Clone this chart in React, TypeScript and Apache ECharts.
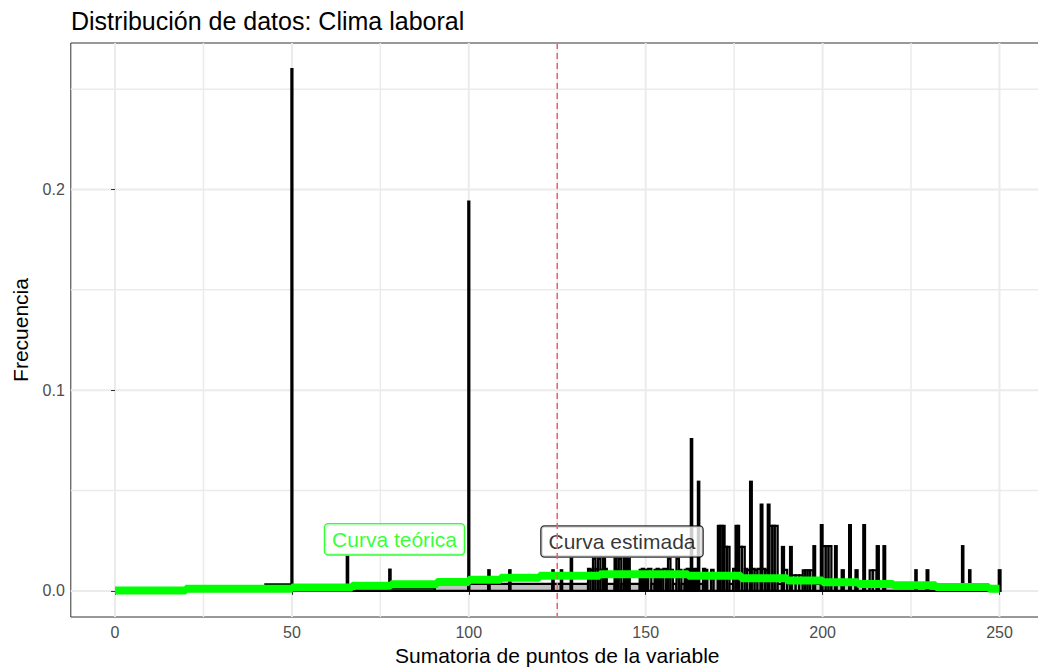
import React, { useEffect, useRef } from "react";
import * as echarts from "echarts";

// ---- Data ----
const xTicks = [0, 50, 100, 150, 200, 250];
const xMinor = [25, 75, 125, 175, 225];
const yTicks = [0, 0.1, 0.2];
const yMinor = [0.05, 0.15, 0.25];

// Estimated distribution (histogram bars): contiguous bin edges and heights
const binEdges = [42.5, 49.85, 50.15, 65.5, 65.9, 68.3, 77.5, 77.9, 90.4, 99.85, 100.15, 105.5, 105.9, 111.4, 111.8, 123.6, 124.0, 126.0, 126.4, 128.8, 129.2, 133.7, 134.4, 135.1, 135.8, 136.5, 137.2, 137.9, 138.5, 139.0, 141.2, 141.8, 142.4, 143.1, 143.8, 144.4, 145.0, 145.5, 148.3, 148.9, 149.5, 150.1, 150.7, 151.6, 152.5, 153.1, 153.7, 154.3, 155.0, 155.8, 156.3, 157.0, 157.7, 158.7, 159.4, 160.1, 161.0, 161.6, 162.2, 162.75, 163.15, 163.7, 164.2, 164.75, 165.15, 166.2, 166.8, 167.4, 168.5, 169.2, 170.4, 171.0, 171.7, 172.3, 173.0, 173.7, 174.7, 175.4, 176.0, 176.4, 177.2, 178.0, 178.7, 179.5, 180.0, 180.8, 181.6, 182.5, 183.0, 183.8, 184.5, 185.0, 185.8, 186.5, 187.3, 188.5, 189.1, 190.0, 190.8, 191.3, 192.4, 193.4, 194.4, 195.1, 195.8, 196.5, 197.4, 197.9, 199.5, 200.0, 200.9, 201.7, 202.5, 203.5, 204.0, 205.4, 206.0, 207.5, 208.0, 209.3, 209.9, 211.5, 212.0, 213.3, 214.2, 215.3, 215.9, 217.2, 217.7, 226.2, 226.6, 229.4, 229.9, 239.4, 239.8, 241.4, 241.8, 249.8, 250.3];
const binHeight = [
  0.0033, 0.26, 0, 0.017, 0, 0.0013, 0.0106, 0.0013, 0.003, 0.194,
  0.0035, 0.0103, 0.0035, 0.0103, 0.0035, 0.0103, 0.0035, 0.0103, 0.0035, 0.016,
  0.0035, 0.011, 0.0105, 0.016, 0.011, 0.016, 0.0105, 0.016, 0.011, 0.0035,
  0.016, 0.0105, 0.016, 0.0035, 0.016, 0.0105, 0.016, 0.0035, 0.0105, 0.011,
  0.0105, 0.0105, 0.011, 0.0035, 0.0105, 0.011, 0.0105, 0.0105, 0.011, 0.0035,
  0.016, 0.0105, 0.0035, 0.016, 0.0105, 0.0035, 0.0105, 0.011, 0.0105, 0.0757,
  0.0105, 0.011, 0.0105, 0.0544, 0.0035, 0.011, 0.0105, 0.0085, 0.0105, 0.0085,
  0.0324, 0.0324, 0.0324, 0.0219, 0.0219, 0.0035, 0.011, 0.0324, 0.0324, 0.0219,
  0.0219, 0.011, 0.0105, 0.0544, 0.011, 0.0105, 0.011, 0.043, 0.011, 0.0105,
  0.043, 0.0324, 0.0324, 0.0324, 0.0035, 0.0219, 0.0105, 0.0035, 0.0219, 0.0078,
  0.0078, 0.0078, 0.0103, 0.0103, 0.0103, 0.0103, 0.0223, 0.0035, 0.0328, 0.0223,
  0.0223, 0.0223, 0.0035, 0.0223, 0.0035, 0.0103, 0.0035, 0.0328, 0.0035, 0.0103,
  0.0035, 0.0328, 0.0035, 0.0103, 0.0103, 0.0223, 0.0035, 0.0223, 0.0025, 0.0103,
  0.0025, 0.0103, 0.0015, 0.0223, 0.0015, 0.0103, 0.0015, 0.0103,
];

// Theoretical curve (step): x where each step starts, value
const greenX = [0, 20, 50, 67, 78, 91, 100, 109, 120, 137, 162, 177, 190, 200, 210, 220, 232, 247, 250];
const greenY = [0.0002, 0.0011, 0.0017, 0.0026, 0.0033, 0.0045, 0.0055, 0.0065, 0.0075, 0.0083, 0.0075, 0.0063, 0.0052, 0.0043, 0.0034, 0.0028, 0.002, 0.0011, 0.0011];

const meanLine = 125;
const labelTeorica = { x: 79, y: 0.0257, text: "Curva teórica" };
const labelEstimada = { x: 143.3, y: 0.0246, text: "Curva estimada" };

const FONT = "'Liberation Sans', Arial, sans-serif";

export default function App() {
  const ref = useRef<HTMLDivElement>(null);
  useEffect(() => {
    if (!ref.current) return;
    const chart = echarts.init(ref.current, undefined, { renderer: "svg" });

    const bins = binHeight.map((h, i) => [binEdges[i], binEdges[i + 1], h]);
    const green = greenX.map((x, i) => [x, greenY[i]]);
    const gridColor = "#EBEBEB";

    const vLineSeries = (values: number[], z: number, styleFor: (v: number) => any) => ({
      type: "custom",
      z,
      silent: true,
      clip: true,
      data: values.map((v) => [v]),
      encode: { x: 0 },
      renderItem: (params: any, api: any) => {
        const v = api.value(0);
        const x = api.coord([v, 0])[0];
        const cs = params.coordSys;
        return {
          type: "line",
          shape: { x1: x, y1: cs.y, x2: x, y2: cs.y + cs.height },
          style: styleFor(v),
        };
      },
    });

    const hLineSeries = (values: number[], z: number, styleFor: (v: number) => any) => ({
      type: "custom",
      z,
      silent: true,
      clip: true,
      data: values.map((v) => [v]),
      encode: { y: 0 },
      renderItem: (params: any, api: any) => {
        const v = api.value(0);
        const y = api.coord([0, v])[1];
        const cs = params.coordSys;
        return {
          type: "line",
          shape: { x1: cs.x, y1: y, x2: cs.x + cs.width, y2: y },
          style: styleFor(v),
        };
      },
    });

    const gridStyle = (major: number[]) => (v: number) => ({
      stroke: gridColor,
      lineWidth: major.includes(v) ? 2 : 1.5,
    });

    const labelSeries = (l: { x: number; y: number; text: string }, color: string) => ({
      type: "scatter",
      z: 6,
      symbolSize: 0,
      silent: true,
      data: [[l.x, l.y]],
      label: {
        show: true,
        position: "inside",
        formatter: l.text,
        color,
        fontFamily: FONT,
        fontSize: 21,
        backgroundColor: "#FFFFFF",
        borderColor: color,
        borderWidth: 1.3,
        borderRadius: 3,
        padding: [5, 7, 4, 7],
      },
    });

    chart.setOption({
      animation: false,
      backgroundColor: "#FFFFFF",
      title: {
        text: "Distribución de datos: Clima laboral",
        left: 66,
        top: 3,
        textStyle: { fontFamily: FONT, fontSize: 25, fontWeight: "normal", color: "#000000" },
      },
      grid: {
        left: 70.8,
        right: -5.7,
        top: 43,
        bottom: 53,
        outerBoundsMode: "none",
        containLabel: false,
        show: true,
        borderColor: "#333333",
        borderWidth: 1,
        backgroundColor: "transparent",
      },
      xAxis: {
        type: "value",
        min: -12.5,
        max: 262.5,
        name: "Sumatoria de puntos de la variable",
        nameLocation: "middle",
        nameGap: 25,
        nameTextStyle: { fontFamily: FONT, fontSize: 21, color: "#000000" },
        axisLine: { show: false },
        splitLine: { show: false },
        axisTick: { show: true, customValues: xTicks, length: 4, lineStyle: { color: "#333333", width: 1 } },
        axisLabel: {
          customValues: xTicks,
          fontFamily: FONT,
          fontSize: 16,
          color: "#4D4D4D",
          margin: 7,
        },
      },
      yAxis: {
        type: "value",
        min: -0.013,
        max: 0.273,
        name: "Frecuencia",
        nameLocation: "middle",
        nameRotate: 90,
        nameGap: 40,
        nameTextStyle: { fontFamily: FONT, fontSize: 21, color: "#000000" },
        axisLine: { show: false },
        splitLine: { show: false },
        axisTick: { show: true, customValues: yTicks, length: 4, lineStyle: { color: "#333333", width: 1 } },
        axisLabel: {
          customValues: yTicks,
          formatter: (v: number) => v.toFixed(1),
          fontFamily: FONT,
          fontSize: 16,
          color: "#4D4D4D",
          margin: 6,
        },
      },
      series: [
        vLineSeries([...xMinor, ...xTicks], 0, gridStyle(xTicks)),
        hLineSeries([...yMinor, ...yTicks], 0, gridStyle(yTicks)),
        {
          type: "custom",
          z: 2,
          silent: true,
          clip: true,
          data: bins,
          encode: { x: [0, 1], y: 2 },
          renderItem: (params: any, api: any) => {
            const x0 = api.value(0);
            const x1 = api.value(1);
            const h = api.value(2);
            const p0 = api.coord([x0, 0]);
            const p1 = api.coord([x1, h]);
            return {
              type: "rect",
              shape: { x: p0[0], y: p1[1], width: p1[0] - p0[0], height: Math.max(p0[1] - p1[1], 0.01) },
              style: { fill: "#C2C2C2", stroke: "#000000", lineWidth: 2.2 },
            };
          },
        },
        {
          type: "line",
          z: 3,
          data: green,
          step: "end",
          symbol: "none",
          lineStyle: { color: "#00FF00", width: 8 },
          silent: true,
        },
        labelSeries(labelTeorica, "#00FF00"),
        labelSeries(labelEstimada, "#000000"),
        vLineSeries([meanLine], 10, () => ({
          stroke: "#EE6070",
          lineWidth: 1.5,
          lineDash: [6, 4],
        })),
      ],
    });
    return () => chart.dispose();
  }, []);
  return (
    <div
      ref={ref}
      style={{ position: "fixed", left: 0, top: 0, width: 1038, height: 670 }}
    />
  );
}
